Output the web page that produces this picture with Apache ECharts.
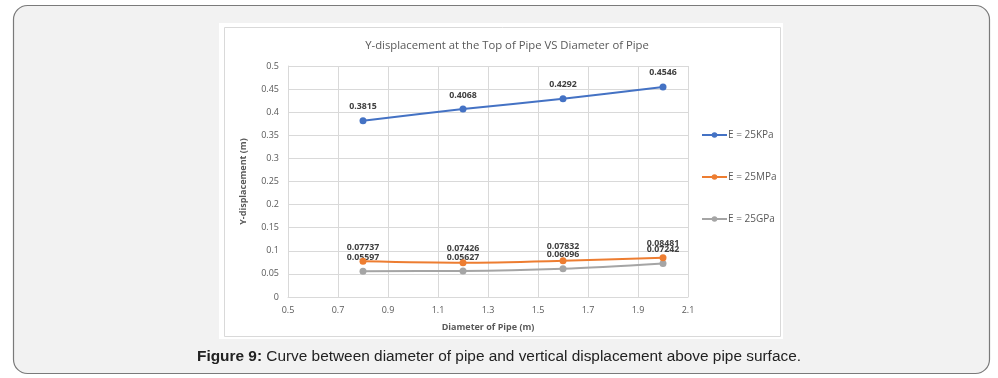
<!DOCTYPE html>
<html>
<head>
<meta charset="utf-8">
<script src="https://cdn.jsdelivr.net/npm/echarts@6/dist/echarts.min.js"></script>
<style>
html,body{margin:0;padding:0;background:#fff;}
#chart{width:998px;height:378px;}
</style>
</head>
<body>
<div id="chart"></div>
<script>
var diameters = [0.8, 1.2, 1.6, 2.0];
var seriesNames = ['E = 25KPa', 'E = 25MPa', 'E = 25GPa'];
var kpaValues = [0.3815, 0.4068, 0.4292, 0.4546];
var mpaValues = [0.07737, 0.07426, 0.07832, 0.08481];
var gpaValues = [0.05597, 0.05627, 0.06096, 0.07242];
var titleText = 'Y-displacement at the Top of Pipe VS Diameter of Pipe';
var xName = 'Diameter of Pipe (m)';
var yName = 'Y-displacement (m)';
var captionBold = 'Figure 9:';
var captionText = ' Curve between diameter of pipe and vertical displacement above pipe surface.';

var colors = ['#4472C4', '#ED7D31', '#A5A5A5'];
var allValues = [kpaValues, mpaValues, gpaValues];

function pairs(vals) {
  return diameters.map(function (d, i) { return [d, vals[i]]; });
}

var chart = echarts.init(document.getElementById('chart'), null, {renderer: 'canvas'});

var series = allValues.map(function (vals, k) {
  return {
    name: seriesNames[k],
    type: 'line',
    data: pairs(vals),
    smooth: 0.3,
    symbol: 'circle',
    symbolSize: 7,
    lineStyle: {color: colors[k], width: 2},
    itemStyle: {color: colors[k]},
    label: {
      show: true,
      position: 'top',
      distance: 6,
      fontFamily: 'Open Sans',
      fontSize: 8.8,
      fontWeight: 'bold',
      color: '#404040',
      formatter: function (p) { return String(p.value[1]); }
    },
    z: 3 - k
  };
});

chart.setOption({
  animation: false,
  backgroundColor: '#ffffff',
  graphic: [
    {type: 'rect', shape: {x: 13.5, y: 5.5, width: 976, height: 368, r: 14},
     style: {fill: '#f2f2f2', stroke: '#7a7a7a', lineWidth: 1.2}, z: -10, silent: true},
    {type: 'rect', shape: {x: 219, y: 23, width: 564, height: 316},
     style: {fill: '#ffffff'}, z: -9, silent: true},
    {type: 'rect', shape: {x: 224.5, y: 27.5, width: 556, height: 309},
     style: {fill: 'none', stroke: '#d9d9d9', lineWidth: 1}, z: -8, silent: true},
    {type: 'text', left: 'center', top: 349,
     style: {
       text: '{b|' + captionBold + '}{n|' + captionText + '}',
       rich: {
         b: {fontFamily: 'Liberation Sans', fontSize: 15.4, fontWeight: 'bold', fill: '#222'},
         n: {fontFamily: 'Liberation Sans', fontSize: 15.4, fill: '#222'}
       }
     }, z: 10}
  ],
  title: {
    text: titleText,
    left: 502,
    textAlign: 'center',
    top: 35,
    textStyle: {fontFamily: 'Open Sans', fontSize: 11.3, fontWeight: 'normal', color: '#595959'}
  },
  legend: {
    orient: 'vertical',
    left: 696,
    top: 125,
    itemGap: 32,
    itemWidth: 25,
    itemHeight: 7,
    textStyle: {fontFamily: 'Open Sans', fontSize: 10, color: '#595959', padding: [0, 0, 0, -4]},
    data: seriesNames
  },
  grid: {left: 288, right: 310, top: 66, bottom: 81, containLabel: false},
  xAxis: {
    type: 'value',
    min: 0.5,
    max: 2.1,
    interval: 0.2,
    name: xName,
    nameLocation: 'middle',
    nameGap: 26,
    nameTextStyle: {fontFamily: 'Open Sans', fontSize: 9, fontWeight: 'bold', color: '#595959'},
    axisLine: {show: true, lineStyle: {color: '#d9d9d9'}},
    axisTick: {show: false},
    axisLabel: {fontFamily: 'Open Sans', fontSize: 9, color: '#595959', margin: 9,
      formatter: function (v) { return v.toFixed(1); }},
    splitLine: {show: true, lineStyle: {color: '#d9d9d9', width: 1}}
  },
  yAxis: {
    type: 'value',
    min: 0,
    max: 0.5,
    interval: 0.05,
    name: yName,
    nameLocation: 'middle',
    nameGap: 40,
    nameTextStyle: {fontFamily: 'Open Sans', fontSize: 9, fontWeight: 'bold', color: '#595959'},
    axisLine: {show: true, lineStyle: {color: '#d9d9d9'}},
    axisTick: {show: false},
    axisLabel: {fontFamily: 'Open Sans', fontSize: 9, color: '#595959', margin: 9,
      formatter: function (v) { return String(Math.round(v * 100) / 100); }},
    splitLine: {show: true, lineStyle: {color: '#d9d9d9', width: 1}}
  },
  series: series
});
</script>
</body>
</html>
